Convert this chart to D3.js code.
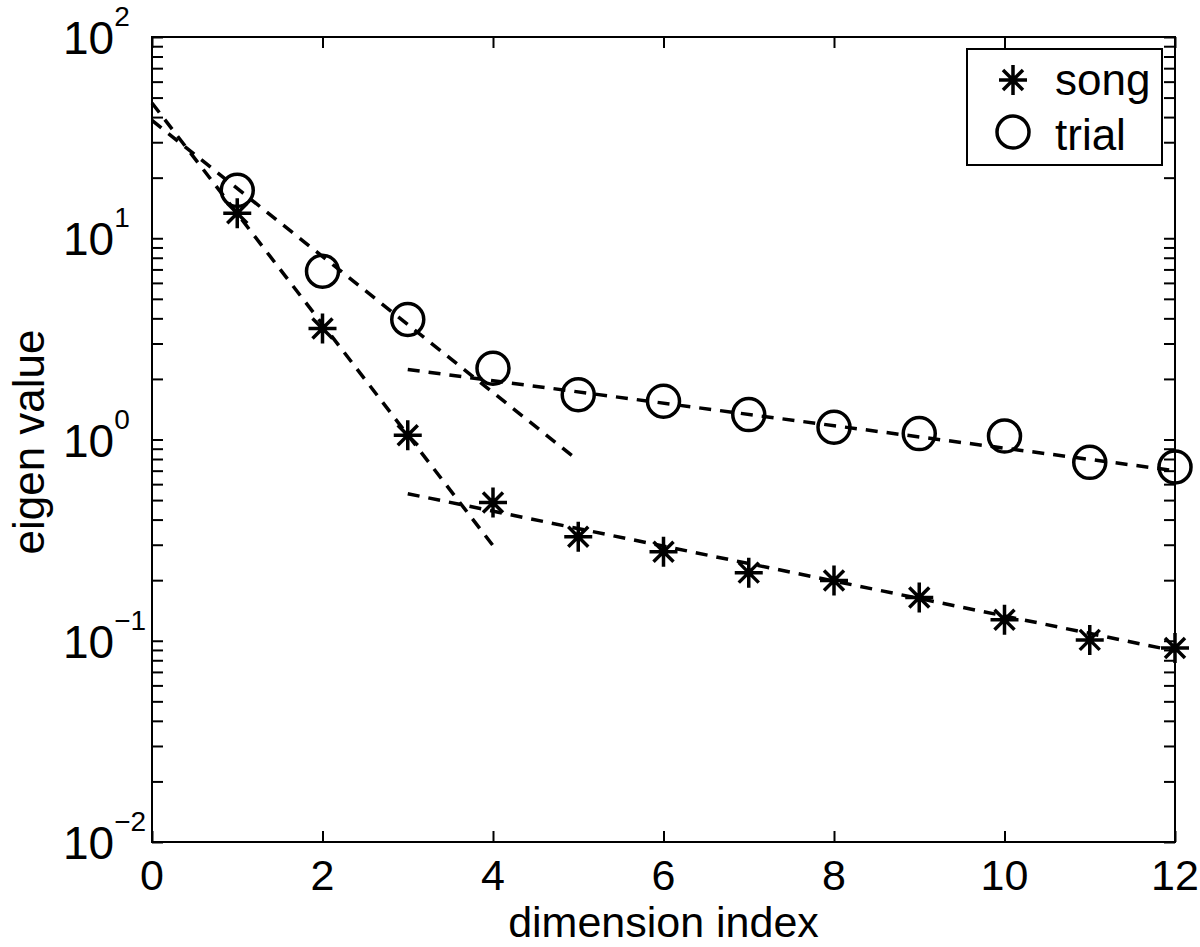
<!DOCTYPE html>
<html>
<head>
<meta charset="utf-8">
<script src="https://cdn.jsdelivr.net/npm/d3@7"></script>
<style>
  html, body { margin: 0; padding: 0; background: #fff; }
  svg { display: block; font-family: "Liberation Sans", Arial, Helvetica, sans-serif; }
</style>
</head>
<body>
<svg id="chart" width="1200" height="947"></svg>
<script>
// ---- data ----
const dims = [1, 2, 3, 4, 5, 6, 7, 8, 9, 10, 11, 12];
const songValues = [13.3, 3.56, 1.05, 0.486, 0.329, 0.277, 0.218, 0.199, 0.164, 0.127, 0.101, 0.092];
const trialValues = [17.3, 6.86, 3.95, 2.26, 1.67, 1.55, 1.33, 1.15, 1.07, 1.04, 0.77, 0.73];
// dashed fit lines: [x, y] end points
const songFitFast = [[0, 47], [4, 0.297]];
const trialFitFast = [[0, 38.5], [4.93, 0.83]];
const songFitSlow = [[3, 0.538], [12, 0.089]];
const trialFitSlow = [[3, 2.23], [12, 0.70]];
const xTicks = [0, 2, 4, 6, 8, 10, 12];
const yDecades = [0.01, 0.1, 1, 10, 100];
const yExponents = ["−2", "−1", "0", "1", "2"];
const legendLabels = ["song", "trial"];
const xLabel = "dimension index";
const yLabel = "eigen value";

// ---- layout ----
const L = 152, R = 1175, T = 37, B = 842;
const svg = d3.select("#chart");
const x = d3.scaleLinear().domain([0, 12]).range([L, R]);
const y = d3.scaleLog().domain([0.01, 100]).range([B, T]);

const minorTicks = [];
for (let e = -2; e < 2; e++) {
  for (let m = 1; m <= 9; m++) minorTicks.push(m * Math.pow(10, e));
}
minorTicks.push(100);

const TK = 11;
function styleAxis(g) {
  g.select(".domain").remove();
  g.selectAll(".tick line").attr("stroke", "#000").attr("stroke-width", 2);
  g.selectAll(".tick text").remove();
}
svg.append("g").attr("transform", `translate(0,${B})`)
  .call(d3.axisBottom(x).tickValues(xTicks).tickSize(-TK)).call(styleAxis);
svg.append("g").attr("transform", `translate(0,${T})`)
  .call(d3.axisTop(x).tickValues(xTicks).tickSize(-TK)).call(styleAxis);
svg.append("g").attr("transform", `translate(${L},0)`)
  .call(d3.axisLeft(y).tickValues(minorTicks).tickSize(-TK)).call(styleAxis);
svg.append("g").attr("transform", `translate(${R},0)`)
  .call(d3.axisRight(y).tickValues(minorTicks).tickSize(-TK)).call(styleAxis);

// box
svg.append("rect").attr("x", L).attr("y", T).attr("width", R - L).attr("height", B - T)
  .attr("fill", "none").attr("stroke", "#000").attr("stroke-width", 2);

// x tick labels
svg.append("g").selectAll("text").data(xTicks).join("text")
  .attr("x", d => x(d)).attr("y", 890).attr("text-anchor", "middle")
  .attr("font-size", 43).text(d => d);

// y tick labels
const yl = svg.append("g").selectAll("text").data(yDecades).join("text")
  .attr("x", 63).attr("y", d => y(d) + 17).attr("font-size", 46);
yl.append("tspan").text("10");
yl.append("tspan").attr("font-size", 28).attr("dy", -28).text((d, i) => yExponents[i]);

// axis labels
svg.append("text").attr("x", (L + R) / 2).attr("y", 937).attr("text-anchor", "middle")
  .attr("font-size", 43).text(xLabel);
svg.append("text").attr("transform", "translate(44,442) rotate(-90)")
  .attr("text-anchor", "middle").attr("font-size", 44).text(yLabel);

// fit lines
const line = d3.line().x(d => x(d[0])).y(d => y(d[1]));
[songFitFast, trialFitFast, songFitSlow, trialFitSlow].forEach(f => {
  svg.append("path").attr("d", line(f)).attr("fill", "none")
    .attr("stroke", "#000").attr("stroke-width", 3.5).attr("stroke-dasharray", "12,9");
});

// markers
function starPath(cx, cy) {
  const h = 14, v = 15, dd = 10;
  return `M${cx - h},${cy}L${cx + h},${cy}M${cx},${cy - v}L${cx},${cy + v}` +
    `M${cx - dd},${cy - dd}L${cx + dd},${cy + dd}M${cx - dd},${cy + dd}L${cx + dd},${cy - dd}`;
}
svg.append("g").selectAll("path").data(dims).join("path")
  .attr("d", (d, i) => starPath(x(d), y(songValues[i])))
  .attr("stroke", "#000").attr("stroke-width", 3.5).attr("fill", "none");
svg.append("g").selectAll("circle").data(dims).join("circle")
  .attr("cx", d => x(d)).attr("cy", (d, i) => y(trialValues[i])).attr("r", 16)
  .attr("stroke", "#000").attr("stroke-width", 3.5).attr("fill", "none");

// legend
const lg = svg.append("g");
lg.append("rect").attr("x", 967).attr("y", 49).attr("width", 195).attr("height", 116)
  .attr("fill", "#fff").attr("stroke", "#000").attr("stroke-width", 2);
lg.append("path").attr("d", starPath(1013, 80)).attr("stroke", "#000").attr("stroke-width", 3.5);
lg.append("circle").attr("cx", 1013).attr("cy", 132).attr("r", 16)
  .attr("fill", "none").attr("stroke", "#000").attr("stroke-width", 3.5);
lg.selectAll("text.lt").data(legendLabels).join("text").attr("class", "lt")
  .attr("x", 1055).attr("y", (d, i) => 95 + i * 55).attr("font-size", 44).text(d => d);
</script>
</body>
</html>
